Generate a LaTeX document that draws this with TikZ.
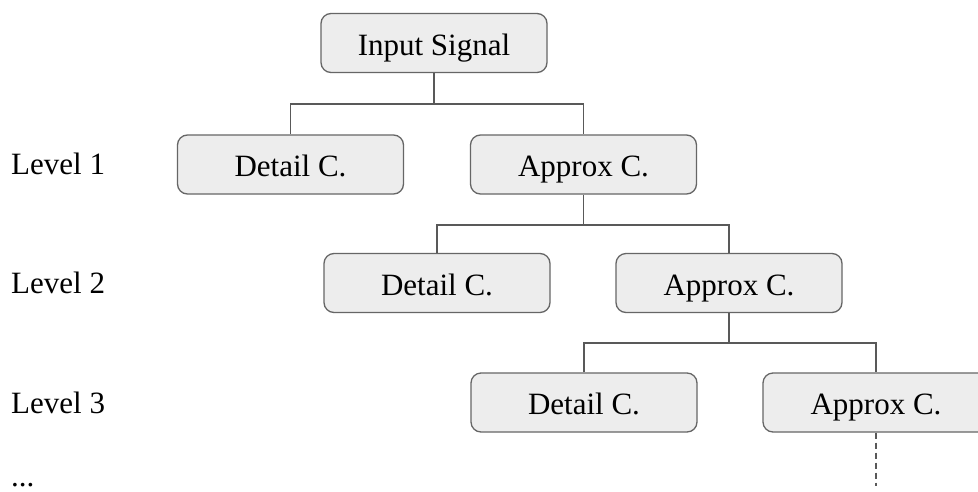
\documentclass[tikz,border=0pt]{standalone}
\usepackage{fontspec}
\setmainfont{Liberation Serif}
\begin{document}
\begin{tikzpicture}[x=1pt,y=-1pt,
  box/.style={draw=black!60, fill=black!7, line width=1.3pt, rounded corners=10pt,
    minimum width=226pt, minimum height=59pt, inner sep=0pt,
    text height=30pt, text depth=6pt,
    font=\fontsize{31}{37}\selectfont},
  lvl/.style={anchor=west, inner sep=0pt, font=\fontsize{31}{37}\selectfont},
  conn/.style={draw=black!65, line width=1.3pt}]
\useasboundingbox (0,0) rectangle (978,491);
\clip (0,0) rectangle (978,491);
\fill[white] (0,0) rectangle (978,491);
\node[box] (in) at (434,43) {Input Signal};
\node[box] (d1) at (290.5,164.5) {Detail C.};
\node[box] (a1) at (583.5,164.5) {Approx C.};
\node[box] (d2) at (437,283) {Detail C.};
\node[box] (a2) at (729,283) {Approx C.};
\node[box] (d3) at (584,402.5) {Detail C.};
\node[box] (a3) at (876,402.5) {Approx C.};
\node[lvl] (l1) at (11,164) {Level 1};
\node[lvl] (l2) at (11,283) {Level 2};
\node[lvl] (l3) at (11,403) {Level 3};
\node[lvl, anchor=base west] (l4) at (11,486) {...};
\coordinate (j1) at (434,104);
\coordinate (j2) at (583.5,225);
\coordinate (j3) at (729,343);
\coordinate (e3) at (876,486);
\draw[conn] (in.south) -- (j1);
\draw[conn] (d1.north) |- (j1) -| (a1.north);
\draw[conn] (a1.south) -- (j2);
\draw[conn] (d2.north) |- (j2) -| (a2.north);
\draw[conn] (a2.south) -- (j3);
\draw[conn] (d3.north) |- (j3) -| (a3.north);
\draw[conn, dash pattern=on 6pt off 4pt] (a3.south) -- (e3);
\end{tikzpicture}
\end{document}
